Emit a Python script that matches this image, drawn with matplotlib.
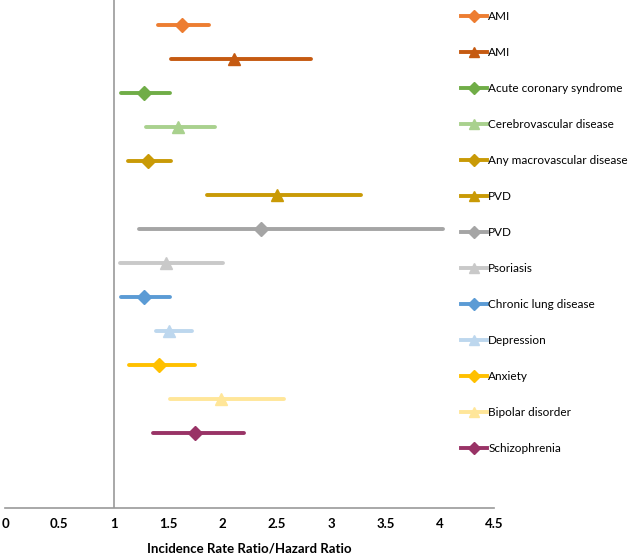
import matplotlib
matplotlib.use("Agg")
import matplotlib.pyplot as plt
from matplotlib.lines import Line2D

plt.rcParams['font.family'] = ['Lato', 'DejaVu Sans']

labels = ["AMI", "AMI", "Acute coronary syndrome", "Cerebrovascular disease",
          "Any macrovascular disease", "PVD", "PVD", "Psoriasis",
          "Chronic lung disease", "Depression", "Anxiety", "Bipolar disorder",
          "Schizophrenia"]
estimate = [1.63, 2.11, 1.28, 1.59, 1.32, 2.50, 2.36, 1.48, 1.28, 1.51, 1.42, 1.99, 1.75]
lower = [1.41, 1.53, 1.07, 1.30, 1.13, 1.86, 1.23, 1.06, 1.07, 1.39, 1.14, 1.52, 1.36]
upper = [1.88, 2.82, 1.52, 1.93, 1.53, 3.28, 4.03, 2.01, 1.52, 1.72, 1.75, 2.57, 2.20]
markers = ["D", "^", "D", "^", "D", "^", "D", "^", "D", "^", "D", "^", "D"]
colors = ["#ED7D31", "#C55A11", "#70AD47", "#A9D18E", "#C99A06", "#C99A06",
          "#A5A5A5", "#C9C9C9", "#5B9BD5", "#BDD7EE", "#FFC000", "#FFE699", "#993366"]
xticks = [0, 0.5, 1, 1.5, 2, 2.5, 3, 3.5, 4, 4.5]

fig = plt.figure(figsize=(6.3, 5.55), dpi=100)
ax = fig.add_axes([5/630, 47/555, 489/630, 508/555])

n = len(labels)
ypos = [n - i for i in range(n)]
handles = []
for i in range(n):
    y = ypos[i]
    ax.plot([lower[i], upper[i]], [y, y], color=colors[i], lw=2.8, solid_capstyle='round', zorder=2)
    ms = 7.5 if markers[i] == "D" else 8
    ax.plot([estimate[i]], [y], marker=markers[i], color=colors[i], ms=ms, mec=colors[i], zorder=3)
    handles.append(Line2D([0], [0], color=colors[i], lw=2.8, marker=markers[i], ms=6.5, mec=colors[i]))

ax.axvline(1, color="#999999", lw=1.2, zorder=1)
ax.set_xlim(0, 4.5)
ax.set_ylim(1 - 75.3/34, n + 25/34)
for s in ["left", "right", "top"]:
    ax.spines[s].set_visible(False)
ax.spines["bottom"].set_color("#999999")
ax.spines["bottom"].set_linewidth(1.2)
ax.set_yticks([])
ax.set_xticks(xticks)
ax.set_xticklabels([f"{t:g}" for t in xticks], fontsize=9.5, fontweight='bold')
ax.tick_params(axis='x', length=0, pad=7)
ax.set_xlabel("Incidence Rate Ratio/Hazard Ratio", fontsize=9.5, fontweight='bold', labelpad=9)

fig.legend(handles, labels, loc='upper left', bbox_to_anchor=(461/630, 1 - 11/555),
           frameon=False, fontsize=8.5, handlelength=2.2, handletextpad=0.1,
           labelspacing=2.12, borderpad=0, borderaxespad=0)

fig.savefig("out.png", dpi=100)
